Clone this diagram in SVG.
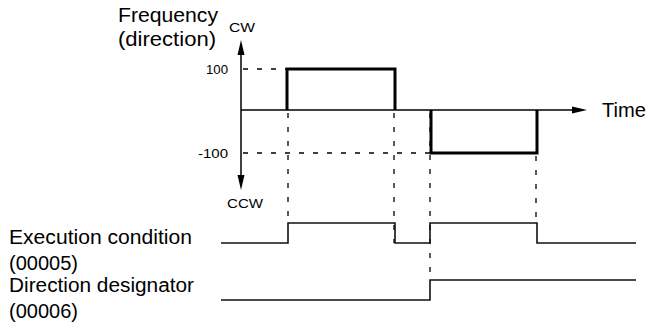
<svg xmlns="http://www.w3.org/2000/svg" width="657" height="326" viewBox="0 0 657 326">
<style>
text{font-family:"Liberation Sans",Arial,sans-serif;fill:#000}
.big{font-size:20px}
.sm{font-size:12.5px}
.axis{stroke:#000;stroke-width:1.5;fill:none}
.pulse{stroke:#000;stroke-width:3;fill:none}
.sig{stroke:#111;stroke-width:1.6;fill:none}
.dash{stroke:#000;stroke-width:1.3;stroke-dasharray:5 9;fill:none}
.head{fill:#000}
</style>
<rect width="657" height="326" fill="#fff"/>
<g id="labels">
<text class="big" x="118" y="22" textLength="100" lengthAdjust="spacingAndGlyphs">Frequency</text>
<text class="big" x="118" y="46" textLength="98" lengthAdjust="spacingAndGlyphs">(direction)</text>
<text class="sm" x="229" y="32" textLength="26" lengthAdjust="spacingAndGlyphs">CW</text>
<text class="sm" x="227" y="208" textLength="36" lengthAdjust="spacingAndGlyphs">CCW</text>
<text class="sm" x="206" y="74" textLength="22" lengthAdjust="spacingAndGlyphs">100</text>
<text class="sm" x="198" y="158" textLength="30" lengthAdjust="spacingAndGlyphs">-100</text>
<text class="big" x="602" y="117" textLength="44" lengthAdjust="spacingAndGlyphs">Time</text>
<text class="big" x="9" y="244" textLength="183" lengthAdjust="spacingAndGlyphs">Execution condition</text>
<text class="big" x="9" y="270">(00005)</text>
<text class="big" x="9" y="292" textLength="185" lengthAdjust="spacingAndGlyphs">Direction designator</text>
<text class="big" x="9" y="318">(00006)</text>
</g>
<g id="axes">
<path class="axis" d="M241,50 V180"/>
<polygon class="head" points="241,40 237.5,55 244.5,55"/>
<polygon class="head" points="241,190 237.5,175 244.5,175"/>
<path class="axis" d="M241,110 H576"/>
<polygon class="head" points="587,110 572,106.5 572,113.5"/>
</g>
<g id="waveform">
<path class="pulse" d="M287,110 V69 H395 V110"/>
<path class="pulse" d="M431,110 V153 H537 V110"/>
</g>
<g id="connectors">
<path class="dash" d="M243,69 H287"/>
<path class="dash" d="M243,153 H431"/>
<path class="dash" d="M288,113 V223"/>
<path class="dash" d="M394,113 V243"/>
<path class="dash" d="M430,113 V280"/>
<path class="dash" d="M536,156 V223"/>
</g>
<g id="exec-signal">
<path class="sig" d="M221,243 H288 V223 H395 V243 H430 V223 H537 V243 H636"/>
</g>
<g id="dir-signal">
<path class="sig" d="M221,300 H430 V280 H636"/>
</g>
</svg>
